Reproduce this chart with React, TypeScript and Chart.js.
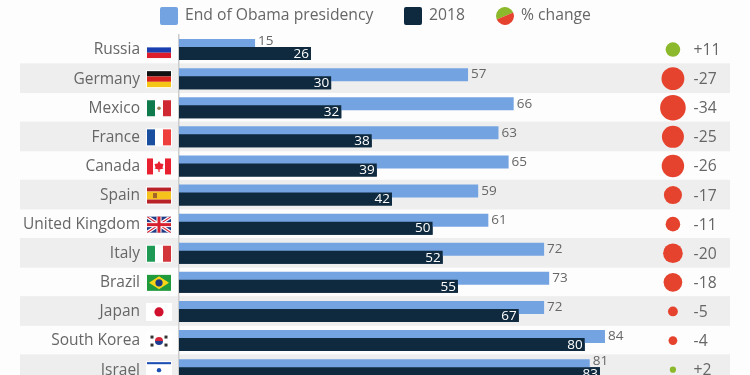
import React, { useEffect, useRef } from "react";
import { Chart, registerables } from "chart.js";

Chart.register(...registerables);

const countries = ["Russia", "Germany", "Mexico", "France", "Canada", "Spain", "United Kingdom", "Italy", "Brazil", "Japan", "South Korea", "Israel"];
const obama = [15, 57, 66, 63, 65, 59, 61, 72, 73, 72, 84, 81];
const y2018 = [26, 30, 32, 38, 39, 42, 50, 52, 55, 67, 80, 83];
const change = [11, -27, -34, -25, -26, -17, -11, -20, -18, -5, -4, 2];
const changeLabels = ["+11", "-27", "-34", "-25", "-26", "-17", "-11", "-20", "-18", "-5", "-4", "+2"];
const legendLabels = ["End of Obama presidency", "2018", "% change"];

const FONT = '"Open Sans", sans-serif';
const BLUE = "#74a3e2";
const NAVY = "#0f2a3f";
const RED = "#e5432e";
const GREEN = "#8cb92b";
const GREY = "#666666";
const CHANGE_COLUMN = 97.4;

function stripesH(c: CanvasRenderingContext2D, x: number, y: number, w: number, h: number, cols: string[], wts?: number[]) {
  const t = wts || cols.map(() => 1);
  const sum = t.reduce((a, b) => a + b, 0);
  let cy = y;
  cols.forEach((col, i) => {
    const hh = (h * t[i]) / sum;
    c.fillStyle = col;
    c.fillRect(x, cy, w, hh);
    cy += hh;
  });
}
function stripesV(c: CanvasRenderingContext2D, x: number, y: number, w: number, h: number, cols: string[], wts?: number[]) {
  const t = wts || cols.map(() => 1);
  const sum = t.reduce((a, b) => a + b, 0);
  let cx = x;
  cols.forEach((col, i) => {
    const ww = (w * t[i]) / sum;
    c.fillStyle = col;
    c.fillRect(cx, y, ww, h);
    cx += ww;
  });
}
function dot(c: CanvasRenderingContext2D, x: number, y: number, r: number, col: string) {
  c.fillStyle = col;
  c.beginPath();
  c.arc(x, y, r, 0, Math.PI * 2);
  c.fill();
}

const flagPainters: Record<string, (c: CanvasRenderingContext2D, x: number, y: number, w: number, h: number) => void> = {
  Russia: (c, x, y, w, h) => stripesH(c, x, y, w, h, ["#ffffff", "#1c3fb0", "#dd1c2c"]),
  Germany: (c, x, y, w, h) => stripesH(c, x, y, w, h, ["#111111", "#d8231f", "#f5c518"]),
  Mexico: (c, x, y, w, h) => {
    stripesV(c, x, y, w, h, ["#0f7a4b", "#ffffff", "#cf2a33"]);
    dot(c, x + w / 2, y + h / 2, 1.8, "#9a7a50");
  },
  France: (c, x, y, w, h) => stripesV(c, x, y, w, h, ["#1a4fa0", "#ffffff", "#ee3f3c"]),
  Canada: (c, x, y, w, h) => {
    stripesV(c, x, y, w, h, ["#e8202f", "#ffffff", "#e8202f"], [1, 2, 1]);
    const mx = x + w / 2, my = y + h / 2;
    c.fillStyle = "#e8202f";
    c.beginPath();
    c.moveTo(mx, my - 5.5);
    c.lineTo(mx + 1.5, my - 3);
    c.lineTo(mx + 4.5, my - 2.5);
    c.lineTo(mx + 3.5, my + 1);
    c.lineTo(mx + 4.5, my + 2);
    c.lineTo(mx + 0.6, my + 3);
    c.lineTo(mx + 0.6, my + 5.5);
    c.lineTo(mx - 0.6, my + 5.5);
    c.lineTo(mx - 0.6, my + 3);
    c.lineTo(mx - 4.5, my + 2);
    c.lineTo(mx - 3.5, my + 1);
    c.lineTo(mx - 4.5, my - 2.5);
    c.lineTo(mx - 1.5, my - 3);
    c.closePath();
    c.fill();
  },
  Spain: (c, x, y, w, h) => {
    stripesH(c, x, y, w, h, ["#b8232a", "#f6c31c", "#b8232a"], [1, 2, 1]);
    c.fillStyle = "#a3642a";
    c.fillRect(x + 6, y + h / 2 - 2.5, 4, 5);
  },
  "United Kingdom": (c, x, y, w, h) => {
    c.fillStyle = "#1f3b85";
    c.fillRect(x, y, w, h);
    c.save();
    c.beginPath();
    c.rect(x, y, w, h);
    c.clip();
    c.strokeStyle = "#ffffff";
    c.lineWidth = 3.5;
    c.beginPath();
    c.moveTo(x, y);
    c.lineTo(x + w, y + h);
    c.moveTo(x + w, y);
    c.lineTo(x, y + h);
    c.stroke();
    c.strokeStyle = "#d6202e";
    c.lineWidth = 1.2;
    c.stroke();
    c.restore();
    c.fillStyle = "#ffffff";
    c.fillRect(x + w / 2 - 2.5, y, 5, h);
    c.fillRect(x, y + h / 2 - 2.5, w, 5);
    c.fillStyle = "#d6202e";
    c.fillRect(x + w / 2 - 1.5, y, 3, h);
    c.fillRect(x, y + h / 2 - 1.5, w, 3);
  },
  Italy: (c, x, y, w, h) => stripesV(c, x, y, w, h, ["#1f9a55", "#ffffff", "#d2353a"]),
  Brazil: (c, x, y, w, h) => {
    c.fillStyle = "#1f9a3c";
    c.fillRect(x, y, w, h);
    c.fillStyle = "#f7d417";
    c.beginPath();
    c.moveTo(x + 2, y + h / 2);
    c.lineTo(x + w / 2, y + 1.5);
    c.lineTo(x + w - 2, y + h / 2);
    c.lineTo(x + w / 2, y + h - 1.5);
    c.closePath();
    c.fill();
    dot(c, x + w / 2, y + h / 2, 3.6, "#1c3a80");
  },
  Japan: (c, x, y, w, h) => {
    c.fillStyle = "#ffffff";
    c.fillRect(x, y, w, h);
    dot(c, x + w / 2, y + h / 2, 4.6, "#d1122e");
  },
  "South Korea": (c, x, y, w, h) => {
    c.fillStyle = "#ffffff";
    c.fillRect(x, y, w, h);
    const mx = x + w / 2, my = y + h / 2;
    c.fillStyle = "#d6263a";
    c.beginPath();
    c.arc(mx, my, 4, Math.PI, 0);
    c.fill();
    c.fillStyle = "#1d3e8f";
    c.beginPath();
    c.arc(mx, my, 4, 0, Math.PI);
    c.fill();
    c.fillStyle = "#333333";
    [[-7, -4], [7, -4], [-7, 4], [7, 4]].forEach(([dx, dy]) => c.fillRect(mx + dx - 1.5, my + dy - 1.5, 3, 3));
  },
  Israel: (c, x, y, w, h) => {
    stripesH(c, x, y, w, h, ["#1d4fb3", "#ffffff", "#ffffff", "#ffffff", "#1d4fb3"], [1, 1, 3, 1, 1]);
    dot(c, x + w / 2, y + h / 2, 2.2, "#1d4fb3");
  },
};

const decorPlugin = {
  id: "decor",
  beforeDraw(chart: any) {
    const { ctx } = chart;
    const s = chart.scales.y;
    ctx.save();
    ctx.fillStyle = "#eeeeee";
    countries.forEach((_, i) => {
      if (i % 2 === 1) {
        ctx.fillRect(20, s.getPixelForValue(i) - 15.3, 710, 29.7);
      }
    });
    ctx.restore();
  },
  afterDatasetsDraw(chart: any) {
    const { ctx } = chart;
    const metaA = chart.getDatasetMeta(0);
    const metaB = chart.getDatasetMeta(1);
    const metaC = chart.getDatasetMeta(2);
    const s = chart.scales.y;
    // The 2018 bars overlap the lower part of the blue bars, so they go on top.
    metaB.controller.draw();
    ctx.save();
    ctx.textBaseline = "middle";
    countries.forEach((name, i) => {
      const a = metaA.data[i];
      const b = metaB.data[i];
      const behindDark = obama[i] < y2018[i];
      ctx.font = `13.5px ${FONT}`;
      ctx.textAlign = "left";
      ctx.fillStyle = GREY;
      ctx.fillText(String(obama[i]), a.x + 3, a.y + (behindDark ? -4.5 : 0));
      ctx.textAlign = "right";
      ctx.fillStyle = "#ffffff";
      ctx.fillText(String(y2018[i]), b.x - 2, b.y + 0.5);

      ctx.textAlign = "left";
      ctx.fillStyle = GREY;
      ctx.font = `15.7px ${FONT}`;
      ctx.fillText(changeLabels[i], metaC.data[i].x + 20.7, metaC.data[i].y + 1);

      const fx = 147, fw = 24, fh = 16, fy = s.getPixelForValue(i) + 0.5 - fh / 2;
      ctx.fillStyle = "#ffffff";
      ctx.fillRect(fx - 1, fy - 1, fw + 2, fh + 2);
      flagPainters[name](ctx, fx, fy, fw, fh);
    });

    ctx.font = `15.7px ${FONT}`;
    ctx.textAlign = "left";
    ctx.textBaseline = "middle";
    const ly = 16;
    let x = 160;
    legendLabels.forEach((label, i) => {
      if (i < 2) {
        ctx.fillStyle = i === 0 ? BLUE : NAVY;
        ctx.beginPath();
        ctx.roundRect(x, ly - 9, 18, 18, 2);
        ctx.fill();
      } else {
        const cx = x + 9;
        ctx.fillStyle = GREEN;
        ctx.beginPath();
        ctx.arc(cx, ly, 9, Math.PI * 0.87, Math.PI * 1.87);
        ctx.fill();
        ctx.fillStyle = RED;
        ctx.beginPath();
        ctx.arc(cx, ly, 9, Math.PI * 1.87, Math.PI * 0.87);
        ctx.fill();
      }
      ctx.fillStyle = GREY;
      ctx.fillText(label, x + 25, ly);
      x += [244, 92][i] ?? 0;
    });
    ctx.restore();
  },
};

export default function App() {
  const ref = useRef<HTMLCanvasElement>(null);
  useEffect(() => {
    const canvas = ref.current;
    if (!canvas) return;
    const chart = new Chart(canvas, {
      type: "bar",
      data: {
        labels: countries,
        datasets: [
          { label: legendLabels[0], data: obama, backgroundColor: BLUE, categoryPercentage: 16 / 29.1, barPercentage: 13 / 8, xAxisID: "x", yAxisID: "y" },
          { label: legendLabels[1], data: y2018, backgroundColor: NAVY, categoryPercentage: 16 / 29.1, barPercentage: 13 / 8, xAxisID: "x", yAxisID: "y" },
          {
            type: "scatter",
            label: legendLabels[2],
            data: countries.map((name) => ({ x: CHANGE_COLUMN, y: name })),
            xAxisID: "x",
            yAxisID: "y",
            showLine: false,
            pointRadius: change.map((v) => 2.2 * Math.sqrt(Math.abs(v))),
            pointHoverRadius: change.map((v) => 2.2 * Math.sqrt(Math.abs(v))),
            pointBorderWidth: 0,
            pointBackgroundColor: change.map((v) => (v > 0 ? GREEN : RED)),
          } as any,
        ],
      },
      options: {
        indexAxis: "y",
        animation: false,
        responsive: false,
        maintainAspectRatio: false,
        layout: { autoPadding: false, padding: { top: 35, bottom: 0.8, left: 0, right: 0 } },
        plugins: { legend: { display: false }, tooltip: { enabled: false } },
        scales: {
          x: { type: "linear", min: 0, max: 112.6, display: false, grid: { display: false } },
          y: {
            type: "category",
            grid: { display: false },
            border: { display: true, color: "#cccccc", width: 1.5 },
            ticks: { padding: 31, labelOffset: 0.5, color: GREY, font: { family: FONT, size: 15.5 }, autoSkip: false },
            afterFit: (s: any) => { s.width = 179; s.paddingTop = 0; s.paddingBottom = 0; },
          },
        },
      } as any,
      plugins: [decorPlugin],
    });
    return () => chart.destroy();
  }, []);
  return (
    <div style={{ position: "fixed", left: 0, top: 0, width: 750, height: 375, overflow: "hidden", background: "#fdfdfd" }}>
      <canvas ref={ref} width={750} height={385} style={{ display: "block", width: 750, height: 385 }} />
    </div>
  );
}
